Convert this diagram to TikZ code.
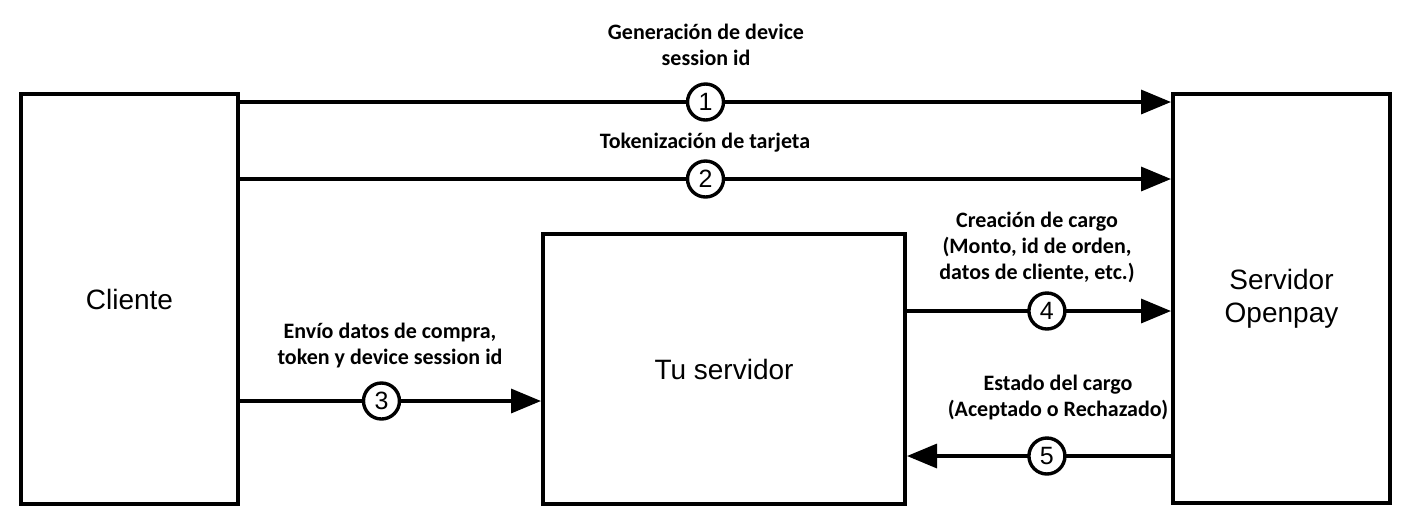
\documentclass[tikz,border=0pt]{standalone}
\usepackage{fontspec}
\setsansfont{Liberation Sans}
\newfontfamily\lblfont{Carlito}
\usepackage{tikz}
\usetikzlibrary{arrows.meta,positioning,calc}
\tikzset{
    box/.style = {draw, line width=2pt, font=\sffamily\fontsize{14}{16.5}\selectfont, align=center},
    flow/.style = {line width=1.7pt, -{Triangle[length=15pt, width=12pt]}},
    num/.style = {circle, draw, fill=white, line width=1.7pt, inner sep=0pt, minimum size=18pt, font=\sffamily\fontsize{12.5}{12.5}\selectfont},
    lbl/.style = {align=center, font=\lblfont\bfseries\fontsize{11}{13}\selectfont}
}
\begin{document}
\begin{tikzpicture}[x=0.5pt, y=-0.5pt]
    \useasboundingbox (0,0) rectangle (1412,526);

    % Nodes
    \node[box, minimum width=108.5pt, minimum height=205pt] (cliente) at (129.5,299) {Cliente};
    \node[box, minimum width=108.5pt, minimum height=204.5pt] (openpay) at (1281.5,298.5) {Servidor\\Openpay};
    \node[box, minimum width=181pt, minimum height=135pt] (tuserv) at (724,369) {Tu servidor};

    % Connectors
    \coordinate (a1) at ([yshift=-5pt]cliente.north east);
    \coordinate (a2) at ([yshift=-43.5pt]cliente.north east);
    \coordinate (a3) at ([yshift=-16pt]tuserv.west);
    \coordinate (a4) at ([yshift=29pt]tuserv.east);
    \coordinate (a5) at ([yshift=-43.5pt]tuserv.east);
    \draw[flow] (a1) -- node[num, pos=0.5] {1} (openpay.west |- a1);
    \draw[flow] (a2) -- node[num, pos=0.5] {2} (openpay.west |- a2);
    \draw[flow] (cliente.east |- a3) -- node[num, pos=0.47] {3} (a3);
    \draw[flow] (a4) -- node[num, pos=0.53] {4} (openpay.west |- a4);
    \draw[flow] (openpay.west |- a5) -- node[num, pos=0.47] {5} (a5);

    % Labels
    \node[lbl] (l1) at (706,45) {Generación de device\\session id};
    \node[lbl] (l2) at (705,143) {Tokenización de tarjeta};
    \node[lbl] (l3) at (390,345) {Envío datos de compra,\\token y device session id};
    \node[lbl] (l4) at (1037,247) {Creación de cargo\\(Monto, id de orden,\\datos de cliente, etc.)};
    \node[lbl] (l5) at (1058,397) {Estado del cargo\\(Aceptado o Rechazado)};

\end{tikzpicture}
\end{document}
